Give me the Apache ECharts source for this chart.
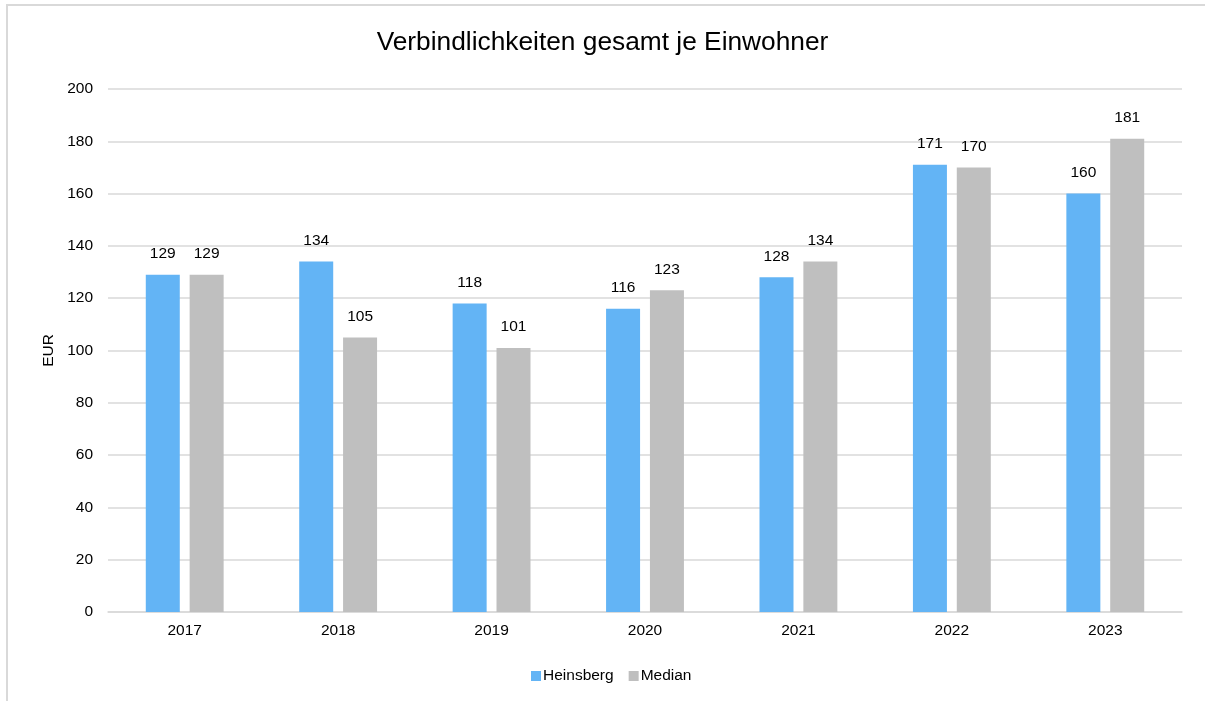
<!DOCTYPE html>
<html><head><meta charset="utf-8">
<script src="https://cdn.jsdelivr.net/npm/echarts@6/dist/echarts.min.js"></script>
<style>html,body{margin:0;padding:0;background:#fff}#c{width:1205px;height:701px}
#frame{position:absolute;left:6px;top:4px;width:1199px;height:697px;border-left:2px solid #d9d9d9;border-top:2px solid #d9d9d9;box-sizing:border-box;pointer-events:none}</style>
</head><body><div id="c"></div><div id="frame"></div>
<script>
const categories = ['2017','2018','2019','2020','2021','2022','2023'];
const heinsberg = [129,134,118,116,128,171,160];
const median = [129,105,101,123,134,170,181];
const yTicks = [0,20,40,60,80,100,120,140,160,180,200];
const font = 'Liberation Sans, Arial, sans-serif';
const fs = 15.5;
const chart = echarts.init(document.getElementById('c'));
const label = {show:true, position:'top', distance:13, color:'#000', fontSize:fs, fontFamily:font};
chart.setOption({
  animation:false,
  title:{text:'Verbindlichkeiten gesamt je Einwohner', left:'center', top:25, textStyle:{fontSize:26.3, fontWeight:'normal', color:'#000', fontFamily:font}},
  legend:{bottom:12, left:526, itemWidth:10, itemHeight:10, itemGap:15, icon:'rect', textStyle:{fontSize:fs, color:'#000', fontFamily:font, padding:[0,0,0,-3]}, data:['Heinsberg','Median']},
  grid:{left:108, right:23, top:89, bottom:89},
  xAxis:{type:'category', data:categories, axisTick:{show:false}, axisLine:{lineStyle:{color:'#d9d9d9', width:1.5}}, axisLabel:{color:'#000', fontSize:fs, fontFamily:font, margin:11}},
  yAxis:{type:'value', min:yTicks[0], max:yTicks[yTicks.length-1], interval:20, name:'EUR', nameLocation:'middle', nameGap:51, nameRotate:90, nameTextStyle:{color:'#000', fontSize:fs, fontFamily:font},
    axisLine:{show:false}, axisTick:{show:false}, axisLabel:{color:'#000', fontSize:fs, fontFamily:font, margin:15}, splitLine:{lineStyle:{color:'#d9d9d9', width:1.5}}},
  series:[
    {name:'Heinsberg', type:'bar', data:heinsberg, barWidth:34, barGap:'29%', itemStyle:{color:'#63b4f5'}, label},
    {name:'Median', type:'bar', data:median, barWidth:34, itemStyle:{color:'#bfbfbf'}, label}
  ]
});
</script></body></html>
